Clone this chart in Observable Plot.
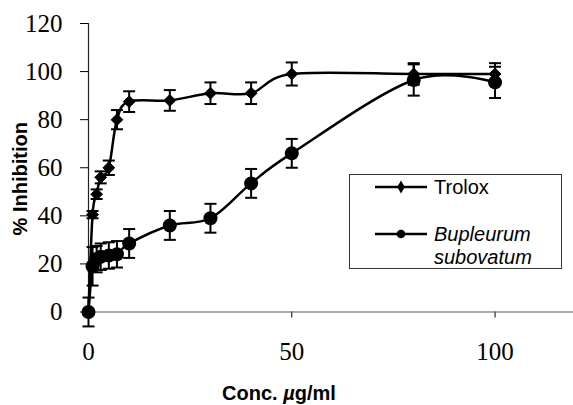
<!DOCTYPE html>
<html>
<head>
<meta charset="utf-8">
<script src="https://cdn.jsdelivr.net/npm/d3@7"></script>
<script src="https://cdn.jsdelivr.net/npm/@observablehq/plot@0.6"></script>
<style>
  html, body { margin: 0; padding: 0; background: #fff; }
  #wrap { position: relative; width: 573px; height: 405px; overflow: hidden; }
  #legend { position: absolute; left: 0; top: 0; pointer-events: none; }
  #wrap > svg:not(#legend) text { font-family: "Liberation Serif", "Times New Roman", "DejaVu Serif", serif !important; font-size: 25px; }
  #wrap > svg:not(#legend) text.lbl { font-family: "Liberation Sans", Arial, sans-serif !important; font-size: 20px; font-weight: bold; }
  #legend text { font-family: "Liberation Sans", Arial, sans-serif; font-size: 20px; }
</style>
</head>
<body>
<div id="wrap"></div>
<script>
// ---- data ----
const conc = [0, 1, 2, 3, 5, 7, 10, 20, 30, 40, 50, 80, 100];
const trolox = [0, 40.5, 49, 56, 60, 80, 87.5, 88, 91, 91, 99, 99, 99];
const troloxErr = [0, 1.5, 2, 2.5, 3, 4, 4.3, 4.3, 4.5, 4.5, 4.8, 4.5, 4.5];
const bupleurum = [0, 19, 22, 23, 23.5, 24, 28.5, 36, 39, 53.5, 66, 96.5, 95.5];
const bupleurumErr = [6, 8, 5.5, 5.5, 5.5, 5.5, 6, 6, 6, 6, 6, 6.5, 6.5];
const xTicks = [0, 50, 100];
const yTicks = [0, 20, 40, 60, 80, 100, 120];
const seriesNames = ["Trolox", "Bupleurum subovatum"];
const yLabel = "% Inhibition";
const xLabel = "Conc. µg/ml";

const rows = [];
conc.forEach((c, i) => {
  rows.push({series: seriesNames[0], x: c, y: trolox[i], e: troloxErr[i]});
  rows.push({series: seriesNames[1], x: c, y: bupleurum[i], e: bupleurumErr[i]});
});
const tRows = rows.filter(d => d.series === seriesNames[0]);
const bRows = rows.filter(d => d.series === seriesNames[1]);

// horizontal cap symbol for error bars
const capSymbol = {draw(ctx, size) { const w = Math.sqrt(size / Math.PI); ctx.moveTo(-w, 0); ctx.lineTo(w, 0); }};
const smooth = d3.curveCatmullRom.alpha(0);

const errMarks = (data) => [
  Plot.ruleX(data, {x: "x", y1: d => d.y - d.e, y2: d => d.y + d.e, stroke: "#000", strokeWidth: 2}),
  Plot.dot(data, {x: "x", y: d => d.y + d.e, symbol: capSymbol, r: 6, stroke: "#000", fill: "none", strokeWidth: 2}),
  Plot.dot(data, {x: "x", y: d => d.y - d.e, symbol: capSymbol, r: 6, stroke: "#000", fill: "none", strokeWidth: 2})
];

const chart = Plot.plot({
  width: 573,
  height: 405,
  marginLeft: 88,
  marginTop: 23,
  marginBottom: 93.5,
  marginRight: 0,
  style: {fontSize: "25px", color: "#000", background: "#fff", overflow: "visible"},
  x: {domain: [0, 119.3], ticks: xTicks, tickSize: 6, tickPadding: 24, label: null, tickFormat: d => String(d)},
  y: {domain: [0, 120], ticks: yTicks, tickSize: 8, tickPadding: 18, label: null, tickFormat: d => String(d)},
  marks: [
    Plot.ruleY([0], {stroke: "#555", strokeWidth: 1.2}),
    Plot.ruleX([0], {stroke: "#222", strokeWidth: 1.2}),
    ...errMarks(tRows),
    ...errMarks(bRows),
    Plot.line(tRows, {x: "x", y: "y", curve: smooth, stroke: "#000", strokeWidth: 2.5}),
    Plot.line(bRows, {x: "x", y: "y", curve: smooth, stroke: "#000", strokeWidth: 2.5}),
    Plot.dot(tRows, {x: "x", y: "y", symbol: "diamond2", r: 5.3, fill: "#000", stroke: "#000", strokeWidth: 1}),
    Plot.dot(bRows, {x: "x", y: "y", symbol: "circle", r: 7, fill: "#000"}),
    Plot.text([yLabel], {frameAnchor: "left", rotate: -90, dx: -68, dy: 11, textAnchor: "middle", lineAnchor: "middle",
      fontWeight: "bold", fontSize: 20, fill: "#000"}),
    Plot.text([xLabel], {frameAnchor: "bottom", dx: -52, dy: 82, textAnchor: "middle", lineAnchor: "middle",
      fontWeight: "bold", fontSize: 20, fill: "#000"})
  ]
});
document.getElementById("wrap").appendChild(chart);

// axis titles in bold sans; µ italic like the original
d3.select(chart).selectAll("text").each(function() {
  const t = d3.select(this);
  const s = t.text();
  if (s === yLabel) t.classed("lbl", true);
  if (s === xLabel) {
    t.classed("lbl", true);
    t.text(null);
    t.append("tspan").text("Conc. ");
    t.append("tspan").attr("font-style", "italic").text("µ");
    t.append("tspan").text("g/ml");
  }
});

// legend (inside plot area, as in the reference)
const lg = d3.select("#wrap").append("svg").attr("id", "legend").attr("width", 573).attr("height", 405);
lg.append("rect").attr("x", 349.5).attr("y", 174.5).attr("width", 212).attr("height", 94)
  .attr("fill", "#fff").attr("stroke", "#333").attr("stroke-width", 1);
const items = [
  {name: seriesNames[0], cy: 187, lines: ["Trolox"], italic: false, sym: d3.symbolDiamond},
  {name: seriesNames[1], cy: 234, lines: ["Bupleurum", "subovatum"], italic: true, sym: d3.symbolCircle}
];
items.forEach(it => {
  lg.append("line").attr("x1", 375).attr("x2", 427).attr("y1", it.cy).attr("y2", it.cy)
    .attr("stroke", "#000").attr("stroke-width", 2.5);
  lg.append("path").attr("d", d3.symbol(it.sym, it.sym === d3.symbolCircle ? 60 : 50)())
    .attr("transform", `translate(401,${it.cy})`).attr("fill", "#000");
  it.lines.forEach((ln, k) => {
    lg.append("text").attr("x", 434).attr("y", it.cy + k * 23).attr("dy", "0.35em")
      .attr("font-style", it.italic ? "italic" : "normal")
      .attr("fill", "#000").text(ln);
  });
});
</script>
</body>
</html>
